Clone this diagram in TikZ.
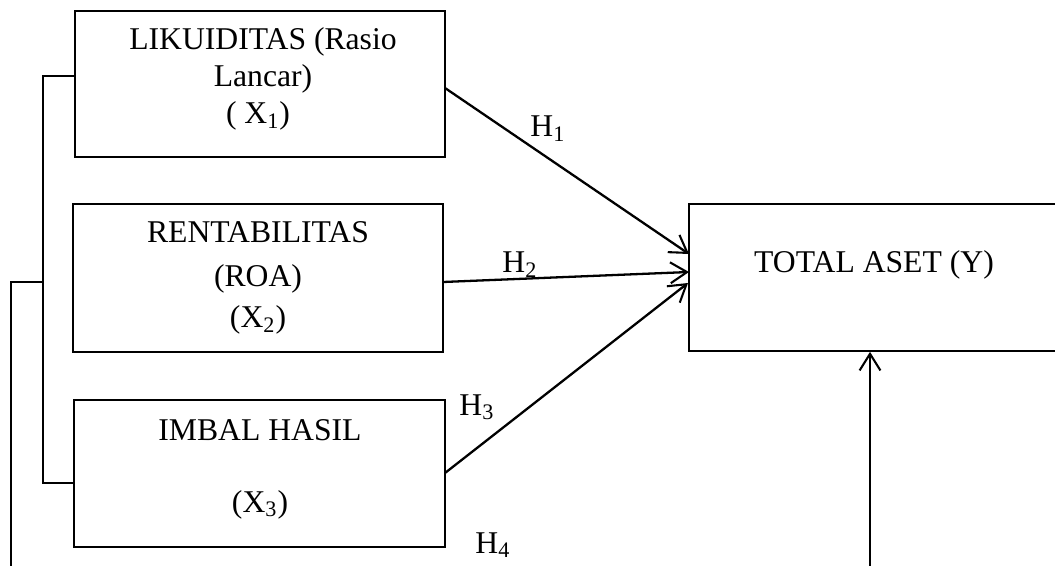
\documentclass[tikz,border=0pt]{standalone}
\usepackage{fontspec}
\setmainfont{Liberation Serif}
\usetikzlibrary{arrows.meta,fit}
\begin{document}
\begin{tikzpicture}[x=0.48pt,y=-0.48pt,
  box/.style={draw,line width=0.8pt,inner sep=0pt,rectangle},
  txt/.style={anchor=base,inner sep=0pt,font=\fontsize{15.2}{18}\selectfont},
  conn/.style={line width=0.8pt},
  arr/.style={line width=1.1pt,-{Straight Barb[length=8pt,width=10pt,line width=1pt]}}]
\useasboundingbox (0,0) rectangle (1055,566);
\clip (0,0) rectangle (1055,566);
% boxes
\node[box,fit={(75,11) (445,157)}] (b1) {};
\node[box,fit={(73,204) (443,352)}] (b2) {};
\node[box,fit={(74,400) (445,547)}] (b3) {};
\node[box,fit={(689,204) (1070,351)}] (by) {};
% texts
\node[txt] (t1a) at (263,50) {LIKUIDITAS (Rasio};
\node[txt] (t1b) at (263,87) {Lancar)};
\node[txt] (t1c) at (258,124) {( X\textsubscript{1})};
\node[txt] (t2a) at (258,243) {RENTABILITAS};
\node[txt] (t2b) at (258,287) {(ROA)};
\node[txt] (t2c) at (258,328) {(X\textsubscript{2})};
\node[txt] (t3a) at (260,440) {IMBAL HASIL};
\node[txt] (t3b) at (260,512) {(X\textsubscript{3})};
\node[txt] (ty) at (874,273) {TOTAL ASET (Y)};
% hypothesis labels
\node[txt,anchor=base west] (h1) at (530,137) {H\textsubscript{1}};
\node[txt,anchor=base west] (h2) at (502,273) {H\textsubscript{2}};
\node[txt,anchor=base west] (h3) at (459,415) {H\textsubscript{3}};
\node[txt,anchor=base west] (h4) at (475,553) {H\textsubscript{4}};
% connection points
\coordinate (s1) at (445,88);
\coordinate (e1) at (689,254);
\coordinate (s2) at (443,282);
\coordinate (e2) at (689,272);
\coordinate (s3) at (445,473);
\coordinate (e3) at (688,283);
\coordinate (bot) at (870,570);
\coordinate (ob) at (11,570);
% arrows
\draw[arr] (s1) -- (e1);
\draw[arr] (s2) -- (e2);
\draw[arr] (s3) -- (e3);
\draw[arr] (bot) -- (bot |- by.south);
% bracket
\draw[conn] (b1.west |- 0,76) -- (43,76) -- (43,483) -- (b3.west |- 0,483);
\draw[conn] (43,282) -- (11,282) -- (ob);
\end{tikzpicture}
\end{document}
